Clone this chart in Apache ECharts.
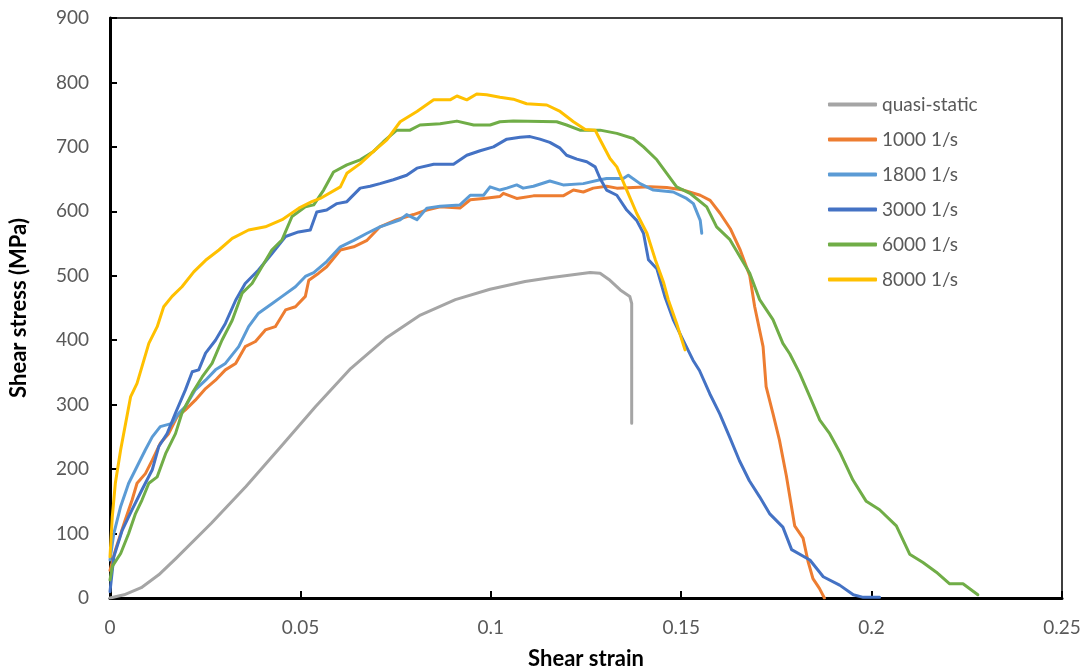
<!DOCTYPE html>
<html>
<head>
<meta charset="utf-8">
<script src="https://cdn.jsdelivr.net/npm/echarts@6/dist/echarts.min.js"></script>
<style>
html,body{margin:0;padding:0;background:#fff;}
#chart{width:1086px;height:670px;}
</style>
</head>
<body>
<div id="chart"></div>
<script>
// Series names
const seriesNames = ['quasi-static', '1000 1/s', '1800 1/s', '3000 1/s', '6000 1/s', '8000 1/s'];
const seriesColors = ['#A5A5A5', '#ED7D31', '#5B9BD5', '#4472C4', '#70AD47', '#FFC000'];

// [shear strain, shear stress (MPa)]
const quasiStatic = [[0,0],[0.0037,5],[0.0082,16],[0.0128,36],[0.0174,62],[0.0266,116],[0.0357,173],[0.0449,235],[0.054,297],[0.0632,356],[0.0724,403],[0.0815,439],[0.0907,463],[0.0998,479],[0.109,491],[0.1155,497],[0.1261,505],[0.1287,504],[0.1313,493],[0.134,478],[0.1365,468],[0.137,457],[0.137,271]];

const rate1000 = [[0,43],[0.0014,74],[0.004,121],[0.0058,152],[0.0071,178],[0.0093,193],[0.0111,214],[0.0132,240],[0.0154,255],[0.0176,281],[0.0198,292],[0.0224,307],[0.0251,325],[0.0277,338],[0.0303,354],[0.033,364],[0.0355,390],[0.0382,398],[0.0408,416],[0.0434,421],[0.0461,447],[0.0487,452],[0.0513,468],[0.0522,493],[0.0548,504],[0.0569,514],[0.0605,540],[0.064,545],[0.0675,555],[0.0709,576],[0.0753,587],[0.0797,595],[0.0832,602],[0.0867,607],[0.0919,605],[0.0946,618],[0.0981,620],[0.1024,623],[0.1033,628],[0.1068,620],[0.1112,624],[0.119,624],[0.1217,633],[0.1243,630],[0.1269,636],[0.1304,639],[0.1331,636],[0.1374,637],[0.1418,638],[0.1462,637],[0.1506,633],[0.155,625],[0.1576,617],[0.1602,597],[0.1629,573],[0.1655,540],[0.168,500],[0.1693,452],[0.1715,390],[0.1723,328],[0.1741,286],[0.1758,245],[0.1776,190],[0.1798,112],[0.182,93],[0.1833,57],[0.1846,30],[0.1863,15],[0.1876,0]];

const rate1800 = [[0,59],[0.001,100],[0.0028,142],[0.0049,178],[0.0071,204],[0.0093,230],[0.0111,250],[0.0132,266],[0.0163,271],[0.0181,287],[0.0198,297],[0.0224,323],[0.0251,338],[0.0277,354],[0.0303,364],[0.0338,390],[0.0364,421],[0.039,442],[0.0426,457],[0.0452,468],[0.0487,483],[0.0513,499],[0.0535,505],[0.0569,522],[0.0605,545],[0.064,555],[0.0675,566],[0.0709,576],[0.0762,587],[0.0779,595],[0.0806,587],[0.0832,605],[0.0867,608],[0.0919,610],[0.0946,625],[0.0981,625],[0.0998,638],[0.1024,633],[0.1042,636],[0.1068,641],[0.1085,636],[0.1112,639],[0.1155,647],[0.119,641],[0.1243,643],[0.1287,649],[0.1304,651],[0.1348,651],[0.1361,656],[0.1392,643],[0.1427,633],[0.1479,630],[0.1514,620],[0.1532,612],[0.155,586],[0.1554,566]];

const rate3000 = [[0,10],[0.001,64],[0.0032,105],[0.0058,137],[0.0084,168],[0.0111,199],[0.0128,235],[0.015,255],[0.0172,287],[0.0198,323],[0.0216,351],[0.0233,354],[0.0251,380],[0.0277,400],[0.0303,426],[0.033,462],[0.0355,488],[0.039,509],[0.0426,535],[0.0461,561],[0.0495,568],[0.0526,571],[0.0543,599],[0.0569,602],[0.0596,612],[0.0622,615],[0.0657,636],[0.0683,639],[0.0709,643],[0.0744,649],[0.0779,656],[0.0806,667],[0.085,673],[0.0902,673],[0.0937,687],[0.0972,694],[0.1007,700],[0.1042,712],[0.1077,715],[0.1103,716],[0.1129,712],[0.1155,707],[0.1182,698],[0.1199,687],[0.1226,681],[0.1252,677],[0.1274,669],[0.1287,651],[0.1304,633],[0.1331,625],[0.1357,602],[0.1383,586],[0.1401,566],[0.1414,525],[0.1436,511],[0.1457,468],[0.1479,432],[0.1505,400],[0.1531,369],[0.1548,353],[0.1575,317],[0.1601,286],[0.1627,250],[0.1653,213],[0.1679,182],[0.1706,157],[0.1732,131],[0.1767,110],[0.179,75],[0.1838,59],[0.1873,33],[0.1916,20],[0.1952,5],[0.1978,1],[0.2021,1]];

const rate6000 = [[0,28],[0.0006,49],[0.0028,69],[0.0049,100],[0.0067,131],[0.0084,152],[0.0102,178],[0.0124,188],[0.0146,224],[0.0172,255],[0.0189,287],[0.0216,318],[0.0242,343],[0.0268,364],[0.0294,400],[0.0321,431],[0.0347,473],[0.0373,488],[0.0399,514],[0.0425,540],[0.0452,556],[0.0478,592],[0.0513,607],[0.0535,610],[0.0561,633],[0.0587,661],[0.0622,672],[0.0657,680],[0.0692,693],[0.0718,708],[0.0753,726],[0.0788,726],[0.0814,734],[0.0867,736],[0.0911,740],[0.0955,734],[0.0998,734],[0.1024,739],[0.1059,740],[0.1173,739],[0.1199,734],[0.1234,726],[0.1287,726],[0.1331,721],[0.1374,713],[0.1401,700],[0.1436,680],[0.1462,659],[0.1488,638],[0.1523,628],[0.1567,607],[0.1593,576],[0.1628,556],[0.1654,530],[0.168,504],[0.1706,463],[0.1741,432],[0.1767,395],[0.1785,379],[0.1811,349],[0.1838,312],[0.1864,276],[0.189,255],[0.1916,227],[0.1951,183],[0.1986,150],[0.2021,137],[0.2065,112],[0.21,68],[0.2135,55],[0.217,40],[0.2205,22],[0.224,22],[0.2279,5]];

const rate8000 = [[0,64],[0.0006,126],[0.0014,178],[0.0028,230],[0.0041,271],[0.0054,312],[0.0071,333],[0.0084,359],[0.0102,395],[0.0124,421],[0.0141,452],[0.0163,468],[0.0189,483],[0.022,506],[0.0251,524],[0.0286,540],[0.0321,558],[0.0364,571],[0.0408,576],[0.0452,587],[0.0496,605],[0.053,615],[0.0552,620],[0.0605,638],[0.0622,659],[0.0657,674],[0.0692,693],[0.0727,711],[0.0762,739],[0.0806,755],[0.085,773],[0.0893,773],[0.0911,779],[0.0937,773],[0.0963,782],[0.0989,781],[0.1024,777],[0.1059,774],[0.1094,767],[0.1147,765],[0.1182,755],[0.1217,739],[0.1248,727],[0.1274,726],[0.1287,711],[0.1313,682],[0.1331,669],[0.1357,633],[0.1383,597],[0.141,566],[0.1432,525],[0.1454,489],[0.1466,463],[0.1488,426],[0.151,385]];

const allData = [quasiStatic, rate1000, rate1800, rate3000, rate6000, rate8000];

const FONT = 'Lato, "Open Sans", sans-serif';

const chart = echarts.init(document.getElementById('chart'), null, {renderer: 'canvas'});
chart.setOption({
  animation: false,
  backgroundColor: '#fff',
  grid: {
    left: 110, right: 24, top: 18, bottom: 72,
    containLabel: false,
    outerBoundsMode: 'none',
    show: true, borderColor: '#000', borderWidth: 1.5, backgroundColor: 'transparent'
  },
  legend: {
    orient: 'vertical',
    left: 828, top: 95,
    padding: 0,
    icon: 'roundRect',
    itemWidth: 49, itemHeight: 4,
    itemGap: 16,
    data: seriesNames,
    textStyle: {color: '#595959', fontSize: 19, fontFamily: FONT}
  },
  xAxis: {
    type: 'value', min: 0, max: 0.25, interval: 0.05,
    name: 'Shear strain', nameLocation: 'middle', nameGap: 50,
    nameTextStyle: {color: '#000', fontSize: 22, fontWeight: 'bold', fontFamily: FONT},
    axisLine: {show: true, onZero: false, lineStyle: {color: '#000', width: 3}},
    axisTick: {show: true, inside: true, length: 7, lineStyle: {color: '#000', width: 2}},
    axisLabel: {color: '#595959', fontSize: 19, fontFamily: FONT, margin: 20},
    splitLine: {show: false}
  },
  yAxis: {
    type: 'value', min: 0, max: 900, interval: 100,
    name: 'Shear stress (MPa)', nameLocation: 'middle', nameGap: 80,
    nameTextStyle: {color: '#000', fontSize: 22, fontWeight: 'bold', fontFamily: FONT},
    axisLine: {show: true, onZero: false, lineStyle: {color: '#000', width: 3}},
    axisTick: {show: true, inside: true, length: 7, lineStyle: {color: '#000', width: 2}},
    axisLabel: {color: '#595959', fontSize: 19, fontFamily: FONT, margin: 21},
    splitLine: {show: false}
  },
  series: seriesNames.map((name, i) => ({
    name: name,
    type: 'line',
    data: allData[i],
    symbol: 'none',
    showSymbol: false,
    smooth: false,
    color: seriesColors[i],
    itemStyle: {color: seriesColors[i]},
    lineStyle: {color: seriesColors[i], width: 3, cap: 'round', join: 'round'},
    z: 2 + i
  }))
});
</script>
</body>
</html>
